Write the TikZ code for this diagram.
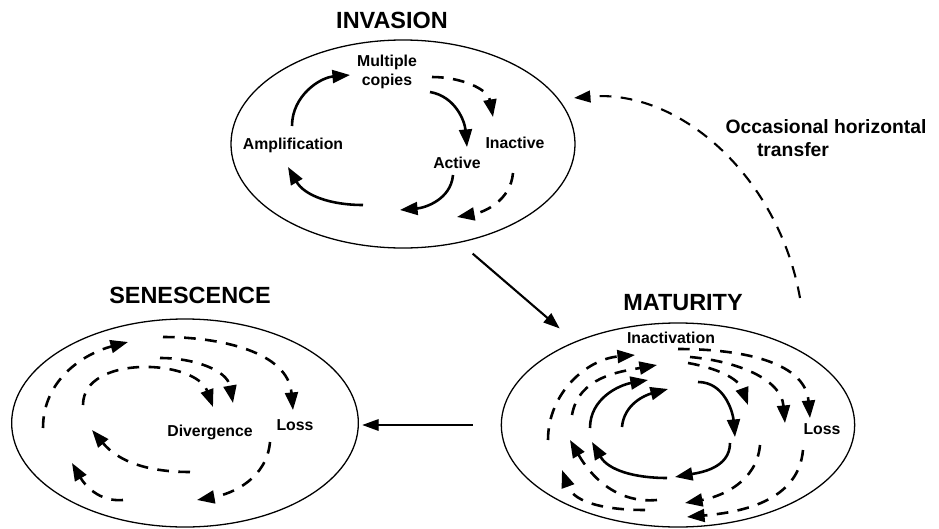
\documentclass[tikz,border=0pt]{standalone}
\usepackage{fontspec}
\setmainfont{Liberation Sans}
\usetikzlibrary{arrows.meta,shapes.geometric}

\begin{document}
\begin{tikzpicture}[x=0.03cm,y=0.03cm,
  stage/.style={draw,ellipse,line width=1.1pt,inner sep=0pt},
  title/.style={font=\fontsize{20}{24}\selectfont\bfseries},
  lbl/.style={font=\fontsize{13.5}{16.5}\selectfont\bfseries,align=center},
  biglbl/.style={font=\fontsize{16.5}{19}\selectfont\bfseries},
  cyc/.style={line width=2.2pt,-{Triangle[length=15pt,width=11pt]}},
  dcyc/.style={cyc,dash pattern=on 10pt off 8pt},
  link/.style={line width=1.8pt,-{Triangle[length=14pt,width=10pt]}}]
\useasboundingbox (0,0) rectangle (939,-529);

% the three stages
\node[stage,minimum width=10.32cm,minimum height=6.24cm] (inv) at (403,-144) {};
\node[stage,minimum width=10.4cm,minimum height=6.24cm] (sen) at (185,-423) {};
\node[stage,minimum width=10.6cm,minimum height=6.12cm] (mat) at (678,-425) {};

\node[title] (invt) at (392,-20) {INVASION};
\node[title] (sent) at (190,-295) {SENESCENCE};
\node[title] (matt) at (683,-303) {MATURITY};

% labels
\node[lbl] (copies) at (387,-72) {Multiple\\copies};
\node[lbl] (ampl) at (293,-145) {Amplification};
\node[lbl] (act) at (457,-163) {Active};
\node[lbl] (inact) at (515,-143) {Inactive};
\node[lbl] (inactv) at (671,-338) {Inactivation};
\node[lbl] (mloss) at (822,-429) {Loss};
\node[lbl] (div) at (210,-432) {Divergence};
\node[lbl] (sloss) at (295,-425) {Loss};
\node[biglbl] (occ) at (826,-127) {Occasional horizontal};
\node[biglbl] (trf) at (793,-150) {transfer};

% links between stages
\draw[link,shorten <=0.5cm,shorten >=0.6cm] (inv.-60) -- (mat.141);
\draw[link,line width=1pt,shorten <=0.84cm,shorten >=0.1cm] (mat.west) -- (sen.east |- mat.west);
\coordinate (trs) at (800,-298);
\draw[link,dash pattern=on 10pt off 8pt,shorten >=0.45cm] (trs) to[out=100,in=5] (inv.16);

% invasion cycle
\draw[cyc] (292,-126) to[out=90,in=185] (350,-75);
\draw[cyc] (430,-92) to[out=-10,in=95] (467,-147);
\draw[cyc] (453,-175) to[out=-95,in=5] (400,-210);
\draw[cyc] (363,-205) to[out=180,in=-60] (288,-167);
\draw[dcyc] (432,-77) to[out=0,in=100] (493,-117);
\draw[dcyc] (513,-173) to[out=-95,in=10] (457,-217);

% maturity cycles
\draw[cyc] (590,-428) to[out=90,in=190] (648,-380);
\draw[cyc] (622,-427) to[out=85,in=195] (668,-389);
\draw[cyc] (698,-382) to[out=0,in=95] (735,-437);
\draw[cyc] (730,-443) to[out=-90,in=10] (675,-477);
\draw[cyc] (667,-478) to[out=180,in=-60] (592,-442);
\draw[dcyc] (548,-440) to[out=90,in=185] (635,-355);
\draw[dcyc] (678,-349) to[out=0,in=95] (810,-418);
\draw[dcyc] (803,-450) to[out=-95,in=5] (687,-517);
\draw[dcyc] (645,-510) to[out=180,in=-70] (562,-470);
\draw[dcyc] (572,-415) to[out=80,in=190] (657,-365);
\draw[dcyc] (690,-357) to[out=-5,in=95] (785,-423);
\draw[dcyc] (760,-445) to[out=-95,in=10] (685,-503);
\draw[dcyc] (657,-500) to[out=185,in=-60] (570,-440);
\draw[dcyc] (688,-363) to[out=-10,in=110] (748,-405);

% senescence cycles
\draw[dcyc] (43,-428) to[out=90,in=195] (128,-342);
\draw[dcyc] (163,-337) to[out=0,in=95] (293,-410);
\draw[dcyc] (270,-442) to[out=-95,in=10] (197,-500);
\draw[dcyc] (123,-500) to[out=185,in=-60] (72,-463);
\draw[dcyc] (83,-405) to[out=90,in=110] (213,-407);
\draw[dcyc] (160,-358) to[out=0,in=100] (233,-403);
\draw[dcyc] (190,-472) to[out=180,in=-50] (92,-430);
\end{tikzpicture}
\end{document}
